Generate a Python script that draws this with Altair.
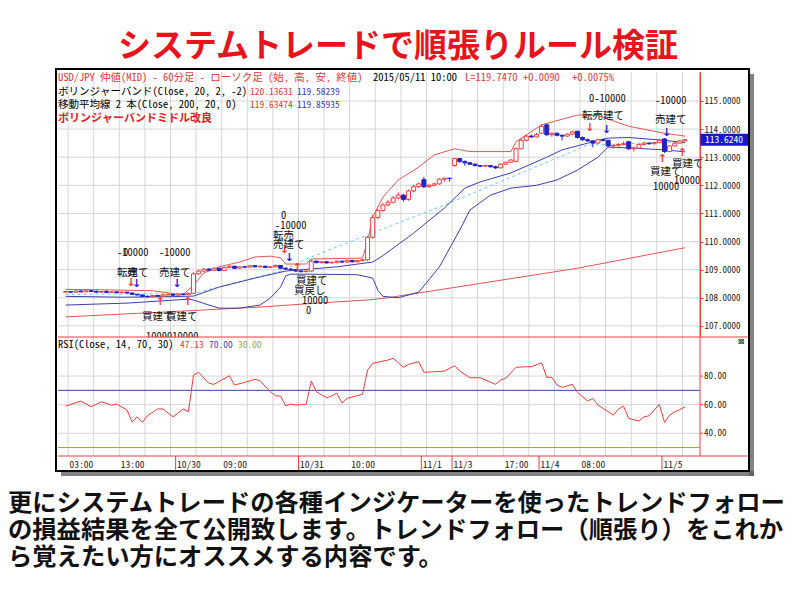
import altair as alt
import pandas as pd

# ------------------------------------------------------------------ data
OPEN = [
108.20,108.22,108.20,108.24,108.21,108.25,108.23,108.20,108.22,108.19,
108.21,108.18,108.20,108.17,108.12,108.10,108.05,108.04,108.08,108.06,
108.10,108.12,108.09,108.13,108.11,108.16,108.85,108.95,109.02,108.98,
109.05,108.97,109.08,109.12,109.05,109.10,109.09,109.14,109.10,109.12,
109.08,109.10,109.15,109.05,109.02,109.00,108.95,108.93,108.95,109.30,
109.25,109.28,109.24,109.26,109.30,109.27,109.33,109.28,109.32,109.35,
110.15,110.85,111.10,111.30,111.40,111.55,111.65,111.50,111.80,111.95,
112.20,111.95,112.00,112.05,112.22,112.25,112.70,112.95,112.85,112.80,
112.75,112.70,112.68,112.70,112.66,112.62,112.75,112.82,112.85,113.30,
113.60,113.75,113.72,113.85,114.15,113.80,113.85,113.78,113.75,113.82,
113.92,113.70,113.62,113.58,113.50,113.62,113.60,113.40,113.42,113.45,
113.55,113.30,113.32,113.45,113.50,113.48,113.52,113.65,113.20,113.40,
113.50,113.58]
CLOSE = [
108.22,108.20,108.24,108.21,108.25,108.23,108.20,108.22,108.19,108.21,
108.18,108.20,108.17,108.12,108.10,108.05,108.04,108.08,108.06,108.10,
108.12,108.09,108.13,108.11,108.16,108.85,108.95,109.02,108.98,109.05,
108.97,109.08,109.12,109.05,109.10,109.09,109.14,109.10,109.12,109.08,
109.10,109.15,109.05,109.02,109.00,108.95,108.93,108.95,109.30,109.25,
109.28,109.24,109.26,109.30,109.27,109.33,109.28,109.32,109.35,110.15,
110.85,111.10,111.30,111.40,111.55,111.65,111.50,111.80,111.95,112.05,
111.95,112.00,112.05,112.22,112.25,112.24,112.95,112.85,112.80,112.75,
112.70,112.68,112.70,112.66,112.62,112.75,112.82,112.90,113.30,113.60,
113.75,113.72,113.80,114.10,113.80,113.85,113.78,113.75,113.82,113.90,
113.70,113.62,113.58,113.50,113.62,113.60,113.40,113.42,113.45,113.48,
113.30,113.32,113.45,113.50,113.48,113.52,113.60,113.20,113.40,113.50,
113.58,113.62]
HIGH = [
108.25,108.24,108.26,108.26,108.28,108.27,108.25,108.24,108.27,108.23,
108.22,108.22,108.21,108.18,108.14,108.11,108.08,108.10,108.10,108.12,
108.14,108.14,108.15,108.15,108.18,108.92,109.00,109.06,109.05,109.08,
109.07,109.10,109.16,109.14,109.12,109.13,109.17,109.16,109.15,109.14,
109.13,109.18,109.16,109.08,109.05,109.02,108.98,108.98,109.38,109.33,
109.31,109.30,109.29,109.33,109.32,109.35,109.35,109.35,109.38,110.20,
110.95,111.18,111.38,111.48,111.62,111.75,111.70,111.85,112.02,112.10,
112.30,112.05,112.10,112.26,112.28,112.28,112.98,112.97,112.88,112.82,
112.78,112.72,112.73,112.72,112.70,112.78,112.85,112.93,113.35,113.66,
113.80,113.80,113.86,114.18,114.18,113.88,113.88,113.80,113.85,113.94,
113.95,113.74,113.66,113.60,113.66,113.66,113.62,113.46,113.50,113.55,
113.58,113.38,113.48,113.53,113.53,113.55,113.65,113.68,113.43,113.54,
113.62,113.66]
LOW = [
108.18,108.18,108.19,108.20,108.20,108.21,108.19,108.18,108.18,108.17,
108.16,108.16,108.15,108.10,108.08,108.02,108.00,108.02,108.04,108.05,
108.08,108.07,108.08,108.09,108.10,108.14,108.82,108.92,108.95,108.96,
108.94,108.95,109.05,109.02,109.03,109.06,109.07,109.08,109.08,109.06,
109.06,109.08,109.02,108.99,108.97,108.92,108.90,108.90,108.92,109.22,
109.22,109.21,109.21,109.23,109.24,109.25,109.25,109.26,109.30,109.30,
110.10,110.80,111.05,111.25,111.35,111.50,111.42,111.45,111.75,111.90,
111.90,111.90,111.96,112.02,112.12,112.14,112.66,112.80,112.70,112.72,
112.67,112.65,112.65,112.63,112.58,112.60,112.72,112.80,112.82,113.28,
113.56,113.68,113.70,113.82,113.75,113.72,113.74,113.60,113.72,113.78,
113.66,113.58,113.55,113.35,113.48,113.56,113.36,113.30,113.38,113.42,
113.26,113.20,113.30,113.42,113.44,113.45,113.50,113.15,113.18,113.38,
113.48,113.55]

UPPER_I = [0, 8, 17, 21, 23, 25, 27, 30, 34, 37, 40, 42, 43, 47, 48, 58, 59, 60, 62, 65,
           69, 72, 76, 79, 87, 88, 93, 100, 104, 110, 117, 121]
UPPER_P = [108.30, 108.28, 108.25, 108.15, 108.12, 108.45, 108.88, 109.10, 109.27, 109.45,
           109.48, 109.42, 109.20, 109.20, 109.38, 109.41, 110.00, 110.87, 111.58, 112.19,
           112.65, 113.08, 113.30, 113.20, 113.20, 113.55, 114.15, 114.50, 114.48, 114.10,
           113.85, 113.75]
MID_I = [0, 11, 21, 25, 30, 37, 43, 53, 60, 62, 68, 74, 78, 81, 87, 94, 97, 102, 106, 110, 117, 121]
MID_P = [108.05, 108.02, 108.04, 108.06, 108.38, 108.70, 108.95, 109.10, 109.27, 109.50,
         110.30, 111.19, 111.90, 112.12, 112.44, 113.00, 113.26, 113.50, 113.68, 113.70,
         113.60, 113.52]
LOWER_I = [0, 12, 24, 25, 27, 30, 34, 38, 40, 42, 43, 44, 47, 57, 60, 61, 62, 65, 69, 73,
           77, 79, 83, 87, 92, 96, 100, 104, 106, 110, 117, 121]
LOWER_P = [107.74, 107.81, 107.95, 107.92, 107.80, 107.63, 107.63, 107.74, 107.99, 108.38,
           108.78, 108.84, 108.84, 108.82, 108.70, 108.27, 108.05, 108.00, 108.20, 109.09,
           110.41, 111.12, 111.65, 111.90, 112.00, 112.19, 112.54, 113.00, 113.36, 113.33,
           113.26, 113.19]
MA200_I = [0, 19, 38, 50, 59, 63, 81, 100, 121]
MA200_P = [107.32, 107.49, 107.67, 107.82, 107.92, 108.00, 108.51, 109.05, 109.78]
MA20_I = [0, 25, 42, 48, 75, 102, 121]
MA20_P = [108.12, 108.15, 108.95, 109.45, 111.37, 113.43, 113.55]

RSI_I = [0, 3, 5, 7, 9, 10, 12, 13, 14, 15, 16, 18, 19, 21, 23, 24, 25, 26, 28, 29,
         32, 33, 35, 37, 38, 40, 41, 42, 43, 44, 45, 47, 48, 49, 51, 52, 53, 54, 55, 58,
         59, 60, 63, 64, 66, 67, 69, 70, 73, 74, 76, 77, 79, 81, 84, 85, 86, 88, 90, 91,
         93, 94, 95, 96, 97, 99, 100, 101, 102, 103, 104, 105, 107, 108, 109, 110, 112, 113, 114, 116,
         117, 118, 119, 120, 121]
RSI_V = [59, 62.5, 58.5, 62, 59.7, 60.4, 56.2, 48, 51.5, 47.6, 52.3, 57, 57, 51.5, 57, 55, 80.7, 82.6, 74.9, 74.2,
         80.2, 73.7, 75.6, 77.7, 76.7, 69, 66.2, 66, 59.2, 60.4, 59.7, 60.2, 76.5, 69, 64.8, 66.2, 67.9, 61.3, 64.4, 67.2,
         84.2, 88.9, 91.2, 92.4, 86.1, 88.2, 90, 82.6, 83.2, 83.5, 87.2, 83.5, 78.8, 78.8, 74.2, 77.2, 78.4, 86.1, 86.5, 86.5,
         89.3, 79.1, 79.1, 73.7, 72.1, 74.2, 68.6, 65.5, 62.5, 64.4, 59.7, 57.4, 52.7, 56.9, 59, 50.4, 48.5, 51.5, 52.2, 60.2,
         47.6, 52.7, 55, 56.5, 58.5]
RSI_LEVEL_HI = 70
RSI_LEVEL_LO = 30
RSI_TICKS = [40, 60, 80]
PRICE_TICKS = [107, 108, 109, 110, 111, 112, 113, 114, 115]
LAST_PRICE = 113.624

XLABEL_POS = [0.5, 10.5, 21.5, 30.5, 45.5, 55.5, 69.5, 75.5, 85.5, 92.5, 100.5, 116.5]
XLABEL_TEXT = ["03:00", "13:00", "10/30", "09:00", "10/31", "10:00", "11/1", "11/3",
               "17:00", "11/4", "08:00", "11/5"]
DATE_SEP = [21.5, 45.5, 69.5, 75.5, 92.5, 116.5]

SIG_I = [12.8, 13.9, 21.8, 18.5, 23.9, 42.8, 43.7, 45.3, 102.4, 105.7, 117.4, 116.6, 120.5]
SIG_P = [108.52, 108.49, 108.49, 107.85, 107.85, 109.70, 109.41, 109.06, 114.04, 113.97,
         113.86, 112.94, 113.15]
SIG_KIND = ["close", "sell", "sell", "buy", "buy", "close", "sell", "buy", "close", "sell",
            "sell", "buy", "buy"]

TITLE = "システムトレードで順張りルール検証"
BODY = ["更にシステムトレードの各種インジケーターを使ったトレンドフォロー",
        "の損益結果を全て公開致します。トレンドフォロー（順張り）をこれか",
        "ら覚えたい方にオススメする内容です。"]

# ------------------------------------------------------------------ layout / style
W, H = 642, 384
PX0, PY0 = 58, 72


def vx(px):
    return px - PX0


def vy(py):
    return py - PY0


RED = "#f03c3c"
BLUE = "#2323c4"
BAND_RED = "#e45454"
BAND_BLUE = "#3e3eb2"
CYAN = "#6ccbeb"
OLIVE = "#a3a236"
GRID = "#d6d6d6"
MONO = "Noto Sans Mono CJK JP, Noto Sans CJK JP, DejaVu Sans Mono, monospace"
JP = "Noto Sans CJK JP"

XS = alt.Scale(domain=[-0.5, 122.96], nice=False, zero=False)
PS = alt.Scale(domain=[106.64, 116.03], range=[264, 0], nice=False, zero=False)
RS = alt.Scale(domain=[24.1, 107.3], range=[384, 265], nice=False, zero=False)

ONE = pd.DataFrame({"k": [0]})


def xq(field="i", axis=None):
    return alt.X(f"{field}:Q", scale=XS, axis=axis)


def yp(field, axis=None):
    return alt.Y(f"{field}:Q", scale=PS, axis=axis)


def yr(field):
    return alt.Y(f"{field}:Q", scale=RS, axis=None)


def txt(text, px, py, color="black", size=10.5, weight="normal", align="left",
        font=MONO, baseline="middle"):
    return alt.Chart(ONE).mark_text(
        text=text, color=color, fontSize=size, fontWeight=weight, align=align,
        baseline=baseline, font=font
    ).encode(x=alt.value(vx(px)), y=alt.value(vy(py)))


def box(px1, px2, py1, py2, **kw):
    return alt.Chart(ONE).mark_rect(**kw).encode(
        x=alt.value(vx(px1)), x2=alt.value(vx(px2)),
        y=alt.value(vy(py1)), y2=alt.value(vy(py2)))


def hline(px1, px2, py, color, width=1):
    return alt.Chart(ONE).mark_rule(color=color, strokeWidth=width).encode(
        x=alt.value(vx(px1)), x2=alt.value(vx(px2)), y=alt.value(vy(py)))


candles = pd.DataFrame({"i": list(range(len(CLOSE))), "o": OPEN, "h": HIGH,
                        "l": LOW, "c": CLOSE})
candles["dir"] = ["up" if c >= o else "down" for o, c in zip(OPEN, CLOSE)]


def line_df(ii, pp):
    return pd.DataFrame({"i": ii, "p": pp})


label_expr = "".join(f"datum.value == {p} ? '{t}' : " for p, t in zip(XLABEL_POS, XLABEL_TEXT)) + "''"

x_label_axis = alt.Axis(orient="bottom", values=XLABEL_POS, labelExpr=label_expr,
                        labelAlign="left", labelBaseline="top", labelPadding=3,
                        labelOffset=1, ticks=False, domain=False, grid=False,
                        labelFont=MONO, labelFontSize=9.5, labelColor="#222",
                        labelOverlap=False, labelFlush=False, labelBound=False, title=None)
y_price_axis = alt.Axis(orient="right", values=PRICE_TICKS, format=".4f", grid=False,
                        domainColor=RED, tickColor=RED, tickSize=3,
                        labelPadding=1, labelFont=MONO, labelFontSize=9,
                        labelColor="#222", title=None)

layers = []

# grid (vertical every 5 bars across both panels, horizontal at price ticks); hosts the axes
layers.append(alt.Chart(pd.DataFrame({"g": [0.5 + 5 * k for k in range(25)]}))
              .mark_rule(color=GRID, strokeWidth=1)
              .encode(x=xq("g", axis=x_label_axis), y=alt.value(0), y2=alt.value(H)))
layers.append(alt.Chart(pd.DataFrame({"p": PRICE_TICKS})).mark_rule(color=GRID, strokeWidth=1)
              .encode(y=yp("p", axis=y_price_axis)))

# indicator lines
layers.append(alt.Chart(line_df(MA200_I, MA200_P)).mark_line(color=BAND_RED, strokeWidth=1)
              .encode(x=xq(), y=yp("p")))
layers.append(alt.Chart(line_df(UPPER_I, UPPER_P)).mark_line(color=BAND_RED, strokeWidth=1)
              .encode(x=xq(), y=yp("p")))
layers.append(alt.Chart(line_df(MA20_I, MA20_P)).mark_line(color=CYAN, strokeWidth=1, strokeDash=[3, 3])
              .encode(x=xq(), y=yp("p")))
layers.append(alt.Chart(line_df(MID_I, MID_P)).mark_line(color=BAND_BLUE, strokeWidth=1)
              .encode(x=xq(), y=yp("p")))
layers.append(alt.Chart(line_df(LOWER_I, LOWER_P)).mark_line(color=BAND_BLUE, strokeWidth=1)
              .encode(x=xq(), y=yp("p")))

# candles
layers.append(alt.Chart(candles).mark_rule(strokeWidth=1).encode(
    x=xq(), y=yp("l"), y2=alt.Y2("h"),
    color=alt.Color("dir:N", scale=alt.Scale(domain=["up", "down"], range=[RED, BLUE]), legend=None)))
layers.append(alt.Chart(candles).transform_filter("datum.c >= datum.o")
              .mark_bar(size=4, fill="white", stroke=RED, strokeWidth=1)
              .encode(x=xq(), y=yp("o"), y2=alt.Y2("c")))
layers.append(alt.Chart(candles).transform_filter("datum.c < datum.o")
              .mark_bar(size=4, fill=BLUE, stroke=BLUE, strokeWidth=1)
              .encode(x=xq(), y=yp("o"), y2=alt.Y2("c")))

# trade signal arrows
sig = pd.DataFrame({"i": SIG_I, "p": SIG_P, "kind": SIG_KIND})
sig["g"] = ["↑" if k == "buy" else "↓" for k in SIG_KIND]
layers.append(alt.Chart(sig).mark_text(font="DejaVu Sans", fontSize=11, fontWeight="bold")
              .encode(x=xq(), y=yp("p"), text="g:N",
                      color=alt.Color("kind:N", scale=alt.Scale(domain=["close", "sell", "buy"],
                                                                range=["#f07cf0", BLUE, RED]),
                                      legend=None)))

# last price marker
last = pd.DataFrame({"p": [LAST_PRICE], "t": [f"{LAST_PRICE:.4f}"]})
layers.append(alt.Chart(last).mark_tick(orient="horizontal", size=48, thickness=12, color="#1717cf", opacity=1)
              .encode(x=alt.value(vx(724)), y=yp("p")))
layers.append(alt.Chart(last).mark_text(color="white", font=MONO, fontSize=9.5)
              .encode(x=alt.value(vx(724)), y=yp("p"), text="t:N"))

# RSI panel
rsi_ticks = pd.DataFrame({"v": RSI_TICKS, "t": [f"{v:.2f}" for v in RSI_TICKS]})
layers.append(alt.Chart(rsi_ticks).mark_rule(color=GRID).encode(y=yr("v")))
layers.append(alt.Chart(pd.DataFrame({"v": [RSI_LEVEL_HI]})).mark_rule(color=BAND_BLUE).encode(y=yr("v")))
layers.append(alt.Chart(pd.DataFrame({"v": [RSI_LEVEL_LO]})).mark_rule(color=OLIVE).encode(y=yr("v")))
layers.append(alt.Chart(pd.DataFrame({"i": RSI_I, "v": RSI_V})).mark_line(color=RED, strokeWidth=1)
              .encode(x=xq(), y=yr("v")))
layers.append(alt.Chart(rsi_ticks).mark_rule(color=RED).encode(
    x=alt.value(W), x2=alt.value(W + 3), y=yr("v")))
layers.append(alt.Chart(rsi_ticks).mark_text(align="left", font=MONO, fontSize=9, color="#222")
              .encode(x=alt.value(vx(704)), y=yr("v"), text="t:N"))

# annotation texts on the price panel
ANN = [("-10000", 117, 253), ("0", 123, 253), ("転建て", 117, 273), ("売", 127, 273),
       ("-10000", 159, 253), ("売建て", 159, 273),
       ("買建て", 142, 317), ("買建て", 166, 317), ("1000010000", 146, 337),
       ("0", 281, 216), ("-10000", 275, 226), ("転売", 273, 236), ("売建て", 273, 245),
       ("買建て", 296, 281), ("買戻し", 294, 291), ("10000", 302, 301), ("0", 306, 311),
       ("0-10000", 589, 99), ("転売建て", 582, 116),
       ("-10000", 655, 101), ("売建て", 655, 120),
       ("買建て", 650, 172), ("買建て", 672, 164), ("10000", 653, 187), ("10000", 674, 181)]
for t, px, py in ANN:
    layers.append(txt(t, px, py, color="#111"))
layers.append(box(140, 205, 337.5, 345, fill="white"))

# separators and frame
layers.append(hline(58, 748, 337, RED))
layers.append(hline(58, 748, 456, RED))
layers.append(alt.Chart(ONE).mark_rule(color=RED).encode(
    x=alt.value(W), y=alt.value(0), y2=alt.value(H)))
layers.append(alt.Chart(pd.DataFrame({"s": DATE_SEP})).mark_rule(color=RED).encode(
    x=xq("s"), y=alt.value(H), y2=alt.value(H + 14)))
layers.append(box(749, 754, 74, 476, fill="#5a5a5a", opacity=0.75))
layers.append(box(61, 754, 471, 476, fill="#5a5a5a", opacity=0.75))
layers.append(box(56, 749, 69, 471, fill="white", fillOpacity=0, stroke="black", strokeWidth=2))

# header texts
layers.append(txt("USD/JPY 仲値(MID) - 60分足 - ローソク足 (始, 高, 安, 終値)", 58, 78, color="#e03a3a"))
layers.append(txt("2015/05/11 10:00", 373, 78))
layers.append(txt("L=119.7470", 465, 78, color="#e03a3a"))
layers.append(txt("+0.0090", 523, 78, color="#e03a3a"))
layers.append(txt("+0.0075%", 572, 78, color="#e03a3a"))
layers.append(txt("ボリンジャーバンド(Close, 20, 2, -2)", 58, 92))
layers.append(txt("120.13631", 250, 92, color="#e03a3a", size=9.5))
layers.append(txt("119.58239", 297, 92, color=BAND_BLUE, size=9.5))
layers.append(txt("移動平均線 2 本(Close, 200, 20, 0)", 58, 105))
layers.append(txt("119.63474", 250, 105, color="#e03a3a", size=9.5))
layers.append(txt("119.85935", 297, 105, color=BAND_BLUE, size=9.5))
layers.append(txt("ボリンジャーバンドミドル改良", 58, 119, color="#e02020", size=11, weight="bold"))
layers.append(txt("RSI(Close, 14, 70, 30)", 58, 345))
layers.append(txt("47.13", 180, 345, color="#e03a3a", size=9.5))
layers.append(txt("70.00", 209, 345, color=BAND_BLUE, size=9.5))
layers.append(txt("30.00", 238, 345, color=OLIVE, size=9.5))
layers.append(txt("⊠", 741, 342, size=8, align="center", font="DejaVu Sans"))

# headline and body text
layers.append(txt(TITLE, 398, 47, color="#e8141c", size=33, weight="bold", align="center", font=JP))
for k, line in enumerate(BODY):
    layers.append(txt(line, 8, 504 + 27 * k, color="#111", size=24.3, weight="bold", font=JP))

chart = (
    alt.layer(*layers)
    .resolve_scale(y="independent")
    .resolve_axis(x="independent")
    .properties(width=W, height=H,
                padding={"left": 50, "top": 64, "right": 90, "bottom": 128},
                autosize=alt.AutoSizeParams(type="none"),
                background="white")
    .configure_view(stroke=None)
)

chart.save("out.html", embed_options={"renderer": "svg", "actions": False})
